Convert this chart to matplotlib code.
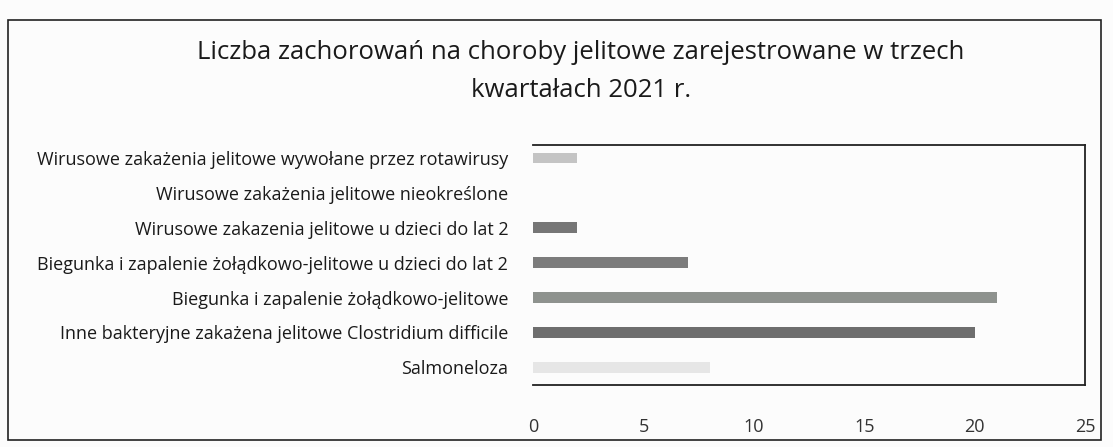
import matplotlib.pyplot as plt
from matplotlib.patches import Rectangle

categories = [
    "Salmoneloza",
    "Inne bakteryjne zakażena jelitowe Clostridium difficile",
    "Biegunka i zapalenie żołądkowo-jelitowe",
    "Biegunka i zapalenie żołądkowo-jelitowe u dzieci do lat 2",
    "Wirusowe zakazenia jelitowe u dzieci do lat 2",
    "Wirusowe zakażenia jelitowe nieokreślone",
    "Wirusowe zakażenia jelitowe wywołane przez rotawirusy",
]
cases = [8, 20, 21, 7, 2, 0, 2]
bar_colors = ["#e6e6e6", "#6e6e6e", "#8e928e", "#7c7c7c", "#767676", "#999999", "#c4c4c4"]
xticks = [0, 5, 10, 15, 20, 25]

plt.rcParams['font.family'] = ['Open Sans', 'DejaVu Sans']

fig = plt.figure(figsize=(11.13, 4.47), dpi=100)
fig.patch.set_facecolor('#fcfcfc')
fig.patches.append(Rectangle((0.007, 0.015), 0.982, 0.94, transform=fig.transFigure,
                             fill=False, edgecolor='#222222', linewidth=1.2))

ax = fig.add_axes([0.479, 0.139, 0.496, 0.537])
ax.set_facecolor('#fcfcfc')
ax.barh(range(len(categories)), cases, height=0.3, color=bar_colors)
ax.set_yticks(range(len(categories)))
ax.set_yticklabels(categories, fontsize=13, color='#1a1a1a')
ax.set_xlim(0, 25)
ax.set_ylim(-0.5, 6.37)
ax.set_xticks(xticks)
ax.set_xticklabels([str(t) for t in xticks], fontsize=13, color='#333333')
ax.tick_params(axis='y', length=0, pad=18)
ax.tick_params(axis='x', length=0, pad=24)
ax.spines['left'].set_visible(False)
for side in ['top', 'bottom', 'right']:
    ax.spines[side].set_color('#222222')
    ax.spines[side].set_linewidth(1.3)

fig.text(0.522, 0.77, "Liczba zachorowań na choroby jelitowe zarejestrowane w trzech\nkwartałach 2021 r.",
         ha='center', va='bottom', fontsize=18.5, color='#1a1a1a', linespacing=1.65)

plt.savefig('out.png', dpi=100, facecolor=fig.get_facecolor())
